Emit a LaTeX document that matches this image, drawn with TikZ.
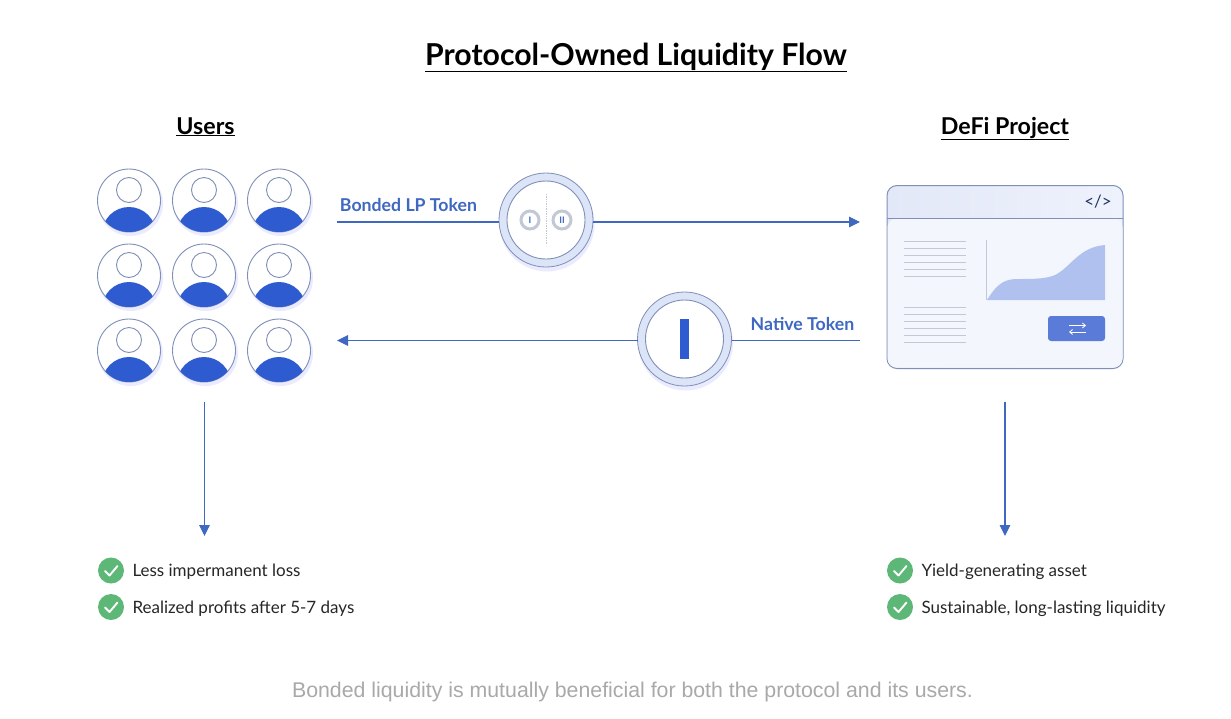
\documentclass[tikz,border=0pt]{standalone}
\usepackage{fontspec}
\usepackage{tikz}
\usetikzlibrary{arrows.meta, positioning}
\setmainfont{Lato}
\newfontfamily\captionfont{Liberation Sans}
\definecolor{flowblue}{HTML}{3F68C0}
\definecolor{bodyblue}{HTML}{2F5BD0}
\definecolor{ringblue}{HTML}{DCE4F7}
\definecolor{edgeblue}{HTML}{7F8FB8}
\definecolor{paleblue}{HTML}{EEF2FC}
\definecolor{headblue}{HTML}{E3E8F8}
\definecolor{chartblue}{HTML}{B0C1F0}
\definecolor{buttonblue}{HTML}{5A7BD8}
\definecolor{checkgreen}{HTML}{5DB878}
\definecolor{textgrey}{HTML}{A9A9A9}
\definecolor{linegrey}{HTML}{C3C8D6}

\begin{document}
\begin{tikzpicture}[x=1pt,y=-1pt,inner sep=0pt,outer sep=0pt,
                    >={Triangle[length=11pt,width=10.5pt]}]
  \tikzstyle{title} = [font=\fontsize{30.2}{32}\selectfont\bfseries, anchor=base]
  \tikzstyle{heading} = [font=\fontsize{23.2}{26}\selectfont\bfseries, anchor=base]
  \tikzstyle{flow} = [draw=flowblue, line width=1.1pt]
  \tikzstyle{flowlabel} = [font=\fontsize{17.7}{20}\selectfont\bfseries, text=flowblue]
  \tikzstyle{avatar} = [circle, draw=edgeblue, line width=0.9pt, minimum size=63pt]
  \tikzstyle{head} = [circle, draw=edgeblue, line width=0.9pt, minimum size=25pt]
  \tikzstyle{token} = [circle, draw=edgeblue, fill=ringblue, line width=0.8pt, minimum size=94pt]
  \tikzstyle{tokenface} = [circle, draw=edgeblue, fill=white, line width=0.9pt, minimum size=78pt]
  \tikzstyle{coin} = [circle, draw=linegrey, fill=white, line width=3pt, minimum size=18pt,
                      font=\fontsize{9}{9}\selectfont\bfseries, text=flowblue]
  \tikzstyle{check} = [circle, fill=checkgreen, minimum size=26pt]
  \tikzstyle{benefit} = [font=\fontsize{17}{20}\selectfont, text=black!85, text height=16pt, text depth=4pt]
  \tikzstyle{rule} = [draw=linegrey, line width=0.8pt]

  \useasboundingbox (0,0) rectangle (1231,718);
  \fill [white] (0,0) rectangle (1231,718);

  \node [title] (title) at (636,65) {\underline{Protocol-Owned Liquidity Flow}};
  \node [heading] (users) at (205.5,134) {\underline{Users}};
  \node [heading] (project) at (1005,134) {\underline{DeFi Project}};

  \foreach \row/\y in {1/200.5, 2/275.5, 3/350.5} {
    \foreach \col/\x in {1/129, 2/204, 3/279} {
      \fill [blue!8] (\x+1.5,\y+3) circle (32.5);
      \node [avatar, fill=white] (user\row\col) at (\x,\y) {};
      \node [head, fill=white] (head\row\col) at (\x,\y-10.5) {};
      \begin{scope}
        \clip (\x,\y) circle (31.5);
        \fill [bodyblue] (\x,\y+33.5) circle (27);
      \end{scope}
    }
  }

  \fill [blue!8] (547,224) circle (47.5);
  \node [token] (bondtoken) at (546,220) {};
  \node [tokenface] (bondface) at (546,220) {};
  \node [coin] (coinone) at (530,220) {I};
  \node [coin] (cointwo) at (562,220) {II};
  \draw [linegrey, densely dotted, line width=0.7pt] (546,194) -- (546,245);

  \fill [blue!8] (685.5,343) circle (47.5);
  \node [token] (nativetoken) at (684.5,339) {};
  \node [tokenface] (nativeface) at (684.5,339) {};
  \node [fill=bodyblue, minimum width=9.5pt, minimum height=40pt] (nativebar) at (684.5,339) {};

  \coordinate (bondstart) at (337,222);
  \coordinate (bondend) at (860,222);
  \coordinate (nativestart) at (860,340.5);
  \coordinate (nativeend) at (337,340.5);
  \draw [flow] (bondstart) -- (bondtoken.west |- bondstart);
  \draw [flow, ->] (bondtoken.east |- bondend) -- (bondend);
  \draw [flow] (nativestart) -- (nativetoken.east |- nativestart);
  \draw [flow, ->] (nativetoken.west |- nativeend) -- (nativeend);
  \node [flowlabel] (bondlabel) at (408.5,205) {Bonded LP Token};
  \node [flowlabel] (nativelabel) at (802.5,324) {Native Token};

  \node [draw=edgeblue, line width=1pt, rounded corners=10pt, left color=headblue,
         right color=paleblue, minimum width=236pt, minimum height=183pt] (window) at (1005,277) {};
  \fill [paleblue!70!white, rounded corners=9pt] (887.5,218.5) -- (887.5,367.5) -- (1122.5,367.5) -- (1122.5,218.5) -- cycle;
  \draw [edgeblue, line width=1pt] (887,218) -- (1123,218);
  \node [font=\fontsize{17}{17}\selectfont, text=black!50!flowblue] (codetag) at (1098,202) {</>};

  \foreach \y in {241,248,...,276} {
    \draw [rule] (904,\y) -- (966,\y);
  }
  \foreach \y in {307,314,...,342} {
    \draw [rule] (904,\y) -- (966,\y);
  }

  \draw [linegrey, line width=0.8pt] (986.5,240) -- (986.5,300);
  \fill [chartblue] (987,300) .. controls (998,282) and (1006,279) .. (1018,279)
    .. controls (1034,279) and (1048,279) .. (1057,274)
    .. controls (1072,265) and (1080,247) .. (1105,245) -- (1105,300) -- cycle;

  \node [fill=buttonblue, rounded corners=3pt, minimum width=57pt, minimum height=25pt] (button) at (1076.5,328.5) {};
  \draw [white, line width=0.8pt, -{Straight Barb[length=3pt,width=5pt]}] (1069,325.5) -- (1086,325.5);
  \draw [white, line width=0.8pt, -{Straight Barb[length=3pt,width=5pt]}] (1086,332) -- (1069,332);

  \coordinate (usersout) at (204.5,402);
  \coordinate (usersgain) at (204.5,536);
  \coordinate (projectout) at (1005,402);
  \coordinate (projectgain) at (1005,536);
  \draw [flow, ->] (usersout) -- (usersgain);
  \draw [flow, ->] (projectout) -- (projectgain);

  \foreach \name/\x/\y/\text in {lossa/111/570.5/Less impermanent loss,
                                 profit/111/607/Realized profits after 5-7 days,
                                 yield/900/570.5/Yield-generating asset,
                                 lasting/900/607/{Sustainable, long-lasting liquidity}} {
    \node [check] (\name) at (\x,\y) {};
    \draw [white, line width=1.9pt, line cap=round, line join=round]
      (\x-6,\y+0.5) -- (\x-1.5,\y+5) -- (\x+6.5,\y-4.5);
    \node [benefit, right=8.5pt of \name] (\name text) {\text};
  }

  \node [font=\fontsize{21.3}{24}\captionfont, text=textgrey, anchor=base] (caption) at (632.5,697) {Bonded liquidity is mutually beneficial for both the protocol and its users.};
\end{tikzpicture}
\end{document}
